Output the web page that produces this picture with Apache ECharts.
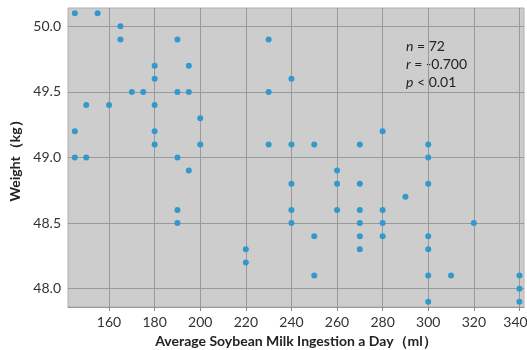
<!DOCTYPE html>
<html>
<head>
<meta charset="utf-8">
<script src="https://cdn.jsdelivr.net/npm/echarts@6/dist/echarts.min.js"></script>
<style>
html,body{margin:0;padding:0;background:#fff;}
#chart{width:527px;height:350px;}
</style>
</head>
<body>
<div id="chart"></div>
<script>
// Soybean milk intake (ml/day)
const intake = [145,155,165,165,190,180,195,180,170,175,190,195,150,160,180,200,145,180,180,200,145,150,190,195,190,190,
  230,240,230,230,240,250,270,260,240,260,270,240,260,270,240,270,250,270,220,220,270,250,
  280,300,300,300,290,280,280,320,280,300,300,300,310,340,340,300,340];
// Weight (kg)
const weight = [50.1,50.1,50.0,49.9,49.9,49.7,49.7,49.6,49.5,49.5,49.5,49.5,49.4,49.4,49.4,49.3,49.2,49.2,49.1,49.1,49.0,49.0,49.0,48.9,48.6,48.5,
  49.9,49.6,49.5,49.1,49.1,49.1,49.1,48.9,48.8,48.8,48.8,48.6,48.6,48.6,48.5,48.5,48.4,48.4,48.3,48.2,48.3,48.1,
  49.2,49.1,49.0,48.8,48.7,48.6,48.5,48.5,48.4,48.4,48.3,48.1,48.1,48.1,48.0,47.9,47.9];
const xTicks = [160,180,200,220,240,260,280,300,320,340];
const yTicks = [48.0,48.5,49.0,49.5,50.0];
const statLines = ['n', ' = 72', 'r', ' = -0.700', 'p', ' < 0.01'];
const xTitle = 'Average Soybean Milk Ingestion a Day\uFF08ml\uFF09';
const yTitle = 'Weight\uFF08kg\uFF09';

const points = intake.map((x, i) => [x, weight[i]]);
const FONT = 'Lato';
const lastX = xTicks[xTicks.length - 1];

const statText = (a, b, top) => ({
  type: 'text', left: 406, top: top,
  style: {
    text: '{i|' + a + '}' + b,
    rich: { i: { fontStyle: 'italic', fontSize: 14, fontFamily: FONT, fill: '#222' } },
    fontSize: 14, fontFamily: FONT, fill: '#222'
  }
});

const chart = echarts.init(document.getElementById('chart'));
chart.setOption({
  animation: false,
  textStyle: { fontFamily: FONT },
  grid: {
    left: 68, right: 3, top: 8, bottom: 43,
    outerBoundsMode: 'none', containLabel: false,
    show: true, backgroundColor: '#cdcdcd', borderColor: '#b0b0b0', borderWidth: 1
  },
  xAxis: {
    type: 'value', min: 142, max: 342,
    name: xTitle, nameLocation: 'middle', nameGap: 27,
    nameTextStyle: { fontFamily: FONT, fontSize: 14, fontWeight: 'bold', color: '#222' },
    axisLine: { show: true, lineStyle: { color: '#999' } },
    axisTick: { show: true, length: 4, lineStyle: { color: '#888' }, customValues: xTicks },
    axisLabel: { fontSize: 14, color: '#333', margin: 8, customValues: xTicks,
      formatter: v => v === lastX ? '{e|' + v + '}' : String(v),
      rich: { e: { fontSize: 14, fontFamily: FONT, color: '#333', padding: [0, 8, 0, 0] } } },
    splitLine: { show: true, lineStyle: { color: '#9a9a9a', width: 1 } }
  },
  yAxis: {
    type: 'value', min: 47.86, max: 50.14,
    name: yTitle, nameLocation: 'middle', nameGap: 46, nameRotate: 90,
    nameTextStyle: { fontFamily: FONT, fontSize: 14, fontWeight: 'bold', color: '#222' },
    axisLine: { show: false },
    axisTick: { show: false, customValues: yTicks },
    axisLabel: { fontSize: 14, color: '#333', margin: 7, customValues: yTicks,
      formatter: v => v.toFixed(1) },
    splitLine: { show: true, lineStyle: { color: '#9a9a9a', width: 1 } }
  },
  graphic: [
    statText(statLines[0], statLines[1], 39),
    statText(statLines[2], statLines[3], 57),
    statText(statLines[4], statLines[5], 75)
  ],
  series: [{
    type: 'scatter',
    data: points,
    symbol: 'circle',
    symbolSize: 6,
    itemStyle: { color: '#3399cc', opacity: 1 }
  }]
});
</script>
</body>
</html>
